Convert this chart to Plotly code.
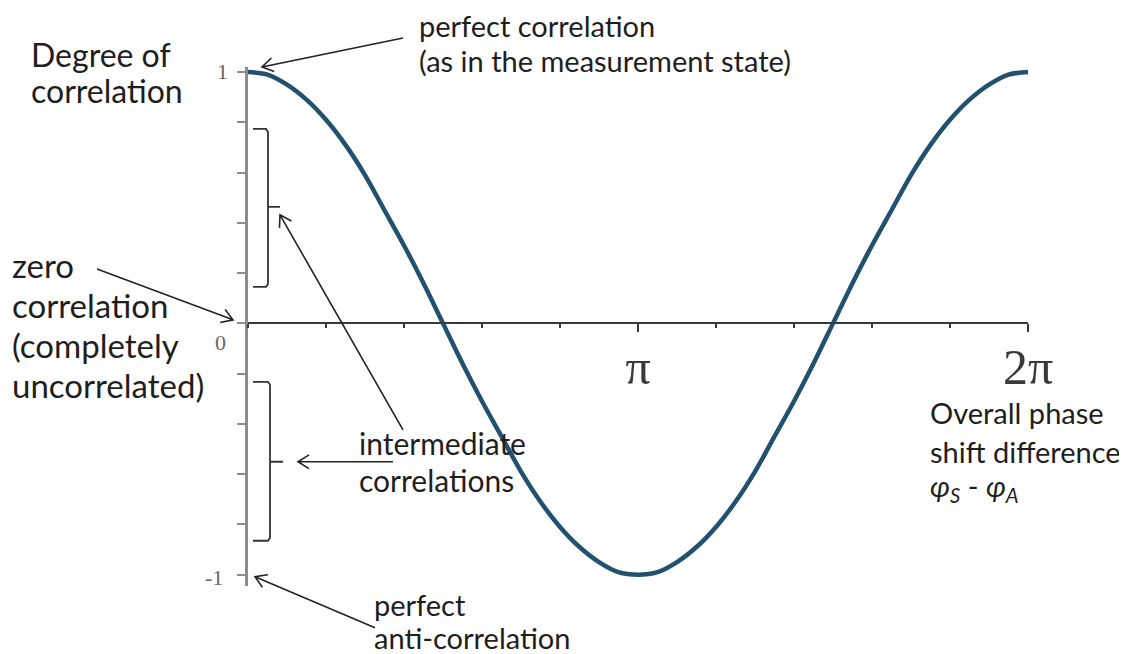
import math
import plotly.graph_objects as go

# phase difference in units of pi, and the degree of correlation
phase_pi = [0.00, 0.05, 0.10, 0.15, 0.20, 0.25, 0.30, 0.35, 0.40, 0.45, 0.50,
            0.55, 0.60, 0.65, 0.70, 0.75, 0.80, 0.85, 0.90, 0.95, 1.00,
            1.05, 1.10, 1.15, 1.20, 1.25, 1.30, 1.35, 1.40, 1.45, 1.50,
            1.55, 1.60, 1.65, 1.70, 1.75, 1.80, 1.85, 1.90, 1.95, 2.00]
correlation = [1.00, 0.99, 0.95, 0.89, 0.81, 0.71, 0.59, 0.45, 0.31, 0.16, 0.00,
               -0.16, -0.31, -0.45, -0.59, -0.71, -0.81, -0.89, -0.95, -0.99, -1.00,
               -0.99, -0.95, -0.89, -0.81, -0.71, -0.59, -0.45, -0.31, -0.16, 0.00,
               0.16, 0.31, 0.45, 0.59, 0.71, 0.81, 0.89, 0.95, 0.99, 1.00]

y_ticks = [-1.0, -0.8, -0.6, -0.4, -0.2, 0.0, 0.2, 0.4, 0.6, 0.8, 1.0]
x_tick_vals = [1, 2]
x_tick_text = ["π", "2π"]

# the page body has an 8px margin, so the figure is drawn 8px in from the window corner
OFF = 8
W, H = 1127 - OFF, 654 - OFF
Y_RANGE = [-1.045, 1.02]
X_RANGE = [0, 2]

# plot area in window pixels
PL, PR = 248, 1028
PT, PB = 67, 586.3
PW, PH = PR - PL, PB - PT


def px(x):
    return (x - PL) / PW


def py(y):
    return (PB - y) / PH


def arrow_path(x0, y0, x1, y1, head=13, ang=32):
    """line from (x0,y0) to tip (x1,y1), with an open chevron head, in paper coords"""
    dx, dy = x0 - x1, y0 - y1
    n = math.hypot(dx, dy)
    ux, uy = dx / n, dy / n
    pts = []
    for s in (1, -1):
        a = math.radians(ang) * s
        hx = x1 + head * (ux * math.cos(a) - uy * math.sin(a))
        hy = y1 + head * (ux * math.sin(a) + uy * math.cos(a))
        pts.append((hx, hy))
    return (f"M {px(x0)},{py(y0)} L {px(x1)},{py(y1)} "
            f"M {px(pts[0][0])},{py(pts[0][1])} L {px(x1)},{py(y1)} "
            f"L {px(pts[1][0])},{py(pts[1][1])}")


def bracket_path(top, bottom, xv, xl, ymid, xnub):
    return (f"M {px(xl)},{py(top)} L {px(xv - 2)},{py(top)} L {px(xv)},{py(top + 3)} "
            f"L {px(xv)},{py(bottom - 3)} L {px(xv - 2)},{py(bottom)} L {px(xl)},{py(bottom)} "
            f"M {px(xv)},{py(ymid)} L {px(xnub)},{py(ymid)}")


fig = go.Figure()
fig.add_trace(go.Scatter(
    x=phase_pi, y=correlation, mode="lines",
    line=dict(color="#22506f", width=4.5, shape="spline", smoothing=0.8),
    cliponaxis=False, showlegend=False, hoverinfo="skip"))

FAM = "Lato, 'Open Sans', sans-serif"

# (text, left x px, centre y px, font size)
text_lines = [
    ("Degree of", 29, 54, 32),
    ("correlation", 29, 91, 32),
    ("perfect correlation", 417, 25, 29),
    ("(as in the measurement state)", 417, 60, 29),
    ("zero", 10, 265, 33),
    ("correlation", 10, 305, 33),
    ("(completely", 10, 345, 33),
    ("uncorrelated)", 10, 385, 33),
    ("intermediate", 357, 443, 30),
    ("correlations", 357, 480, 30),
    ("Overall phase", 928, 413, 29),
    ("shift difference", 928, 452, 29),
    ("<i>φ<sub>S</sub></i> - <i>φ<sub>A</sub></i>", 928, 488, 29),
    ("perfect", 372, 605, 29),
    ("anti-correlation", 372, 638, 29),
]

annotations = []
for t, x, y, s in text_lines:
    annotations.append(dict(text=t, x=px(x), y=py(y), xref="paper", yref="paper",
                            xanchor="left", yanchor="middle", showarrow=False,
                            font=dict(family=FAM, size=s, color="#1e1e1e")))

SERIF = dict(family="'Liberation Serif', 'DejaVu Serif', serif", size=22, color="#666666")
for t, x, y in [("1", 222, 72), ("0", 220, 343), ("-1", 214, 578)]:
    annotations.append(dict(text=t, x=px(x), y=py(y), xref="paper", yref="paper",
                            xanchor="center", yanchor="middle", showarrow=False, font=SERIF))

shapes = []
for a in [(403, 38, 262, 67), (97, 269, 233, 320), (403, 430, 280, 215),
          (393, 462, 298, 462), (375, 628, 255, 577)]:
    shapes.append(dict(type="path", path=arrow_path(*a), xref="paper", yref="paper",
                       line=dict(color="#222222", width=1.6)))
for b in [(129, 287, 268, 253, 207, 280), (382, 541, 270, 253, 462, 283)]:
    shapes.append(dict(type="path", path=bracket_path(*b), xref="paper", yref="paper",
                       line=dict(color="#333333", width=1.8)))

fig.update_layout(
    width=W, height=H, autosize=False,
    margin=dict(l=PL - OFF, r=W - (PR - OFF), t=PT - OFF, b=H - (PB - OFF)),
    paper_bgcolor="white", plot_bgcolor="white",
    showlegend=False,
    xaxis=dict(range=X_RANGE, anchor="free",
               position=(0 - Y_RANGE[0]) / (Y_RANGE[1] - Y_RANGE[0]),
               showgrid=False, zeroline=False,
               showline=True, linecolor="#3a3a3a", linewidth=2,
               tickmode="array", tickvals=x_tick_vals, ticktext=x_tick_text,
               ticks="outside", ticklen=8, tickwidth=2, tickcolor="#3a3a3a",
               ticklabelstandoff=-8,
               tickfont=dict(family="'Liberation Serif', 'DejaVu Serif', serif",
                             size=50, color="#3a3a3a"),
               minor=dict(ticks="outside", tick0=0, dtick=0.2, ticklen=4,
                          tickwidth=2, tickcolor="#3a3a3a", showgrid=False)),
    yaxis=dict(range=Y_RANGE, showgrid=False, zeroline=False,
               showline=True, linecolor="#8c8c8c", linewidth=3,
               tickmode="array", tickvals=y_ticks, showticklabels=False,
               ticks="outside", ticklen=8, tickwidth=2, tickcolor="#8c8c8c"),
    annotations=annotations,
    shapes=shapes,
)

fig.write_html("out.html")
